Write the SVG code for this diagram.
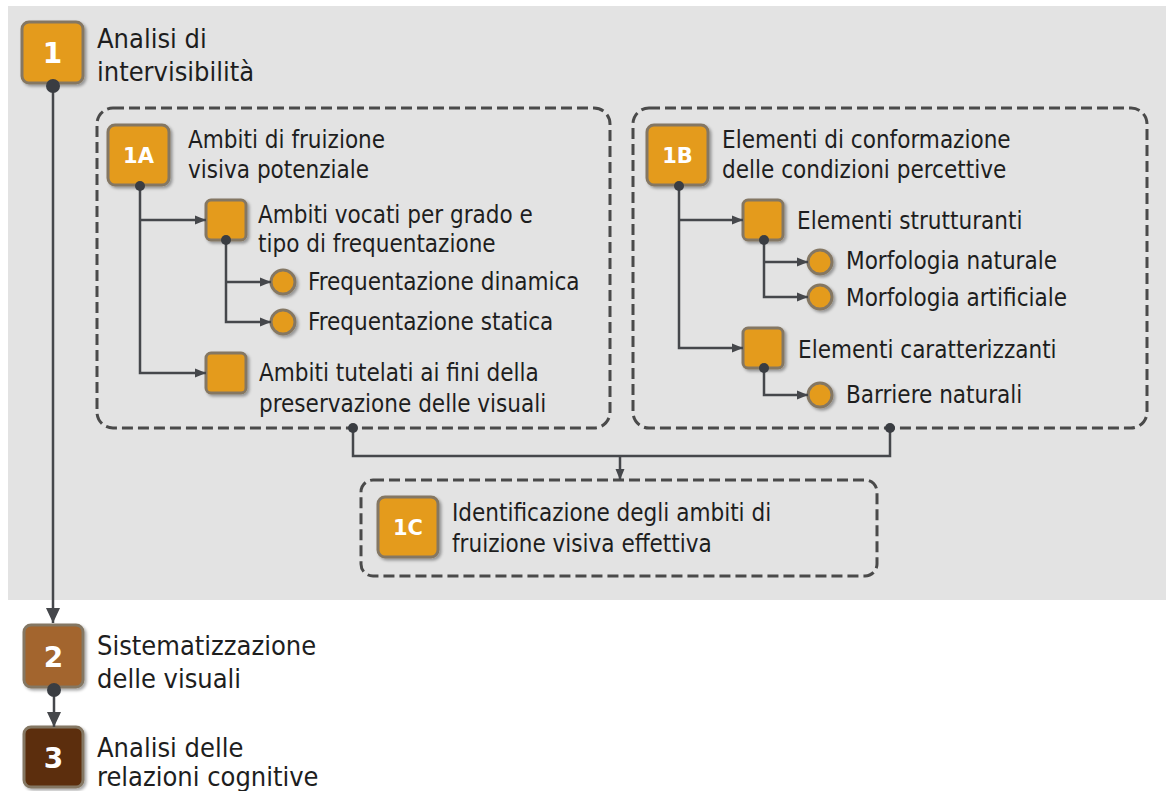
<svg xmlns="http://www.w3.org/2000/svg" width="1166" height="791" viewBox="0 0 1166 791">
<defs>
<filter id="sh" x="-20%" y="-20%" width="150%" height="150%"><feDropShadow dx="2" dy="2" stdDeviation="1.8" flood-color="#000" flood-opacity="0.35"/></filter>
<marker id="ar" markerUnits="userSpaceOnUse" markerWidth="12" markerHeight="10" refX="11" refY="5" orient="auto"><path d="M0,0.5 L11,5 L0,9.5 z" fill="#45474b"/></marker>
<marker id="arB" markerUnits="userSpaceOnUse" markerWidth="16" markerHeight="14" refX="15" refY="7" orient="auto"><path d="M0,0 L15,7 L0,14 z" fill="#45474b"/></marker>
<style>
.t1{font-family:"DejaVu Sans Condensed","DejaVu Sans",sans-serif;font-size:27px;fill:#1e1e1e}
.t2{font-family:"DejaVu Sans Condensed","DejaVu Sans",sans-serif;font-size:24px;fill:#1e1e1e}
.num{font-family:"DejaVu Sans","Liberation Sans",sans-serif;font-weight:bold;fill:#fff;text-anchor:middle}
.box{fill:#e49b1f;stroke:#847763;stroke-width:3;filter:url(#sh)}
.dash{fill:none;stroke:#4a4a4a;stroke-width:3;stroke-dasharray:11 5}
.ln{fill:none;stroke:#45474b;stroke-width:2.5}
.dot{fill:#3a3d42}
</style>
</defs>
<rect x="8" y="6" width="1158" height="594" fill="#e3e3e3"/>
<g id="frames">
<rect class="dash" x="97" y="108" width="513" height="320" rx="16"/>
<rect class="dash" x="633" y="108" width="514" height="320" rx="16"/>
<rect class="dash" x="361" y="480" width="516" height="96" rx="12"/>
</g>
<g id="n1">
<rect class="box" x="22" y="22" width="61" height="61" rx="7"/>
<text class="num" x="52.5" y="63" font-size="28">1</text>
<text class="t1" x="97" y="48">Analisi di</text>
<text class="t1" x="97" y="81">intervisibilità</text>
</g>
<g id="n1A">
<rect class="box" x="108" y="125" width="61" height="60" rx="7"/>
<text class="num" x="138.5" y="163" font-size="21">1A</text>
<text class="t2" x="188" y="148">Ambiti di fruizione</text>
<text class="t2" x="188" y="178">visiva potenziale</text>
</g>
<g id="n1A1">
<rect class="box" x="206" y="200" width="40" height="40" rx="5"/>
<text class="t2" x="258" y="223">Ambiti vocati per grado e</text>
<text class="t2" x="258" y="252">tipo di frequentazione</text>
</g>
<g id="n1A1a">
<circle class="box" cx="283" cy="282" r="12"/>
<text class="t2" x="308" y="290">Frequentazione dinamica</text>
</g>
<g id="n1A1b">
<circle class="box" cx="283" cy="322" r="12"/>
<text class="t2" x="308" y="330">Frequentazione statica</text>
</g>
<g id="n1A2">
<rect class="box" x="206" y="353" width="40" height="40" rx="5"/>
<text class="t2" x="259" y="381">Ambiti tutelati ai fini della</text>
<text class="t2" x="259" y="412">preservazione delle visuali</text>
</g>
<g id="n1B">
<rect class="box" x="647" y="125" width="61" height="60" rx="7"/>
<text class="num" x="677.5" y="163" font-size="21">1B</text>
<text class="t2" x="722" y="148">Elementi di conformazione</text>
<text class="t2" x="722" y="178">delle condizioni percettive</text>
</g>
<g id="n1B1">
<rect class="box" x="743" y="200" width="40" height="40" rx="5"/>
<text class="t2" x="797" y="229">Elementi strutturanti</text>
</g>
<g id="n1B1a">
<circle class="box" cx="820" cy="262" r="12"/>
<text class="t2" x="846" y="269">Morfologia naturale</text>
</g>
<g id="n1B1b">
<circle class="box" cx="820" cy="297" r="12"/>
<text class="t2" x="846" y="306">Morfologia artificiale</text>
</g>
<g id="n1B2">
<rect class="box" x="743" y="328" width="40" height="40" rx="5"/>
<text class="t2" x="798" y="358">Elementi caratterizzanti</text>
</g>
<g id="n1B2a">
<circle class="box" cx="820" cy="395" r="12"/>
<text class="t2" x="846" y="403">Barriere naturali</text>
</g>
<g id="n1C">
<rect class="box" x="378" y="497" width="60" height="60" rx="7"/>
<text class="num" x="408" y="535" font-size="21">1C</text>
<text class="t2" x="452" y="521">Identificazione degli ambiti di</text>
<text class="t2" x="452" y="552">fruizione visiva effettiva</text>
</g>
<g id="n2">
<rect class="box" x="24" y="625" width="59" height="62" style="fill:#a3652d" rx="7"/>
<text class="num" x="53.5" y="667" font-size="28">2</text>
<text class="t1" x="97" y="655">Sistematizzazione</text>
<text class="t1" x="97" y="688">delle visuali</text>
</g>
<g id="n3">
<rect class="box" x="24" y="727" width="59" height="60" style="fill:#5b2f0c" rx="7"/>
<text class="num" x="53.5" y="768" font-size="28">3</text>
<text class="t1" x="97" y="757">Analisi delle</text>
<text class="t1" x="97" y="786">relazioni cognitive</text>
</g>
<g id="connectors">
<line class="ln" x1="53" y1="86" x2="53" y2="623" stroke-width="3" marker-end="url(#arB)"/>
<line class="ln" x1="54" y1="690" x2="54" y2="727" stroke-width="3" marker-end="url(#arB)"/>
<polyline class="ln" points="140,186 140,373 206,373" marker-end="url(#ar)"/>
<line class="ln" x1="140" y1="220" x2="206" y2="220" marker-end="url(#ar)"/>
<polyline class="ln" points="226,240 226,322 271,322" marker-end="url(#ar)"/>
<line class="ln" x1="226" y1="282" x2="271" y2="282" marker-end="url(#ar)"/>
<polyline class="ln" points="679,186 679,348 743,348" marker-end="url(#ar)"/>
<line class="ln" x1="679" y1="220" x2="743" y2="220" marker-end="url(#ar)"/>
<polyline class="ln" points="764,240 764,297 808,297" marker-end="url(#ar)"/>
<line class="ln" x1="764" y1="262" x2="808" y2="262" marker-end="url(#ar)"/>
<polyline class="ln" points="764,368 764,395 808,395" marker-end="url(#ar)"/>
<polyline class="ln" points="353,428 353,456 890,456 890,428"/>
<line class="ln" x1="620" y1="456" x2="620" y2="480" marker-end="url(#ar)"/>
<circle class="dot" cx="53" cy="86" r="7"/>
<circle class="dot" cx="54" cy="690" r="7"/>
<circle class="dot" cx="140" cy="186" r="5"/>
<circle class="dot" cx="226" cy="240" r="5"/>
<circle class="dot" cx="679" cy="186" r="5"/>
<circle class="dot" cx="764" cy="240" r="5"/>
<circle class="dot" cx="764" cy="368" r="5"/>
<circle class="dot" cx="353" cy="428" r="5"/>
<circle class="dot" cx="890" cy="428" r="5"/>
</g>
</svg>
